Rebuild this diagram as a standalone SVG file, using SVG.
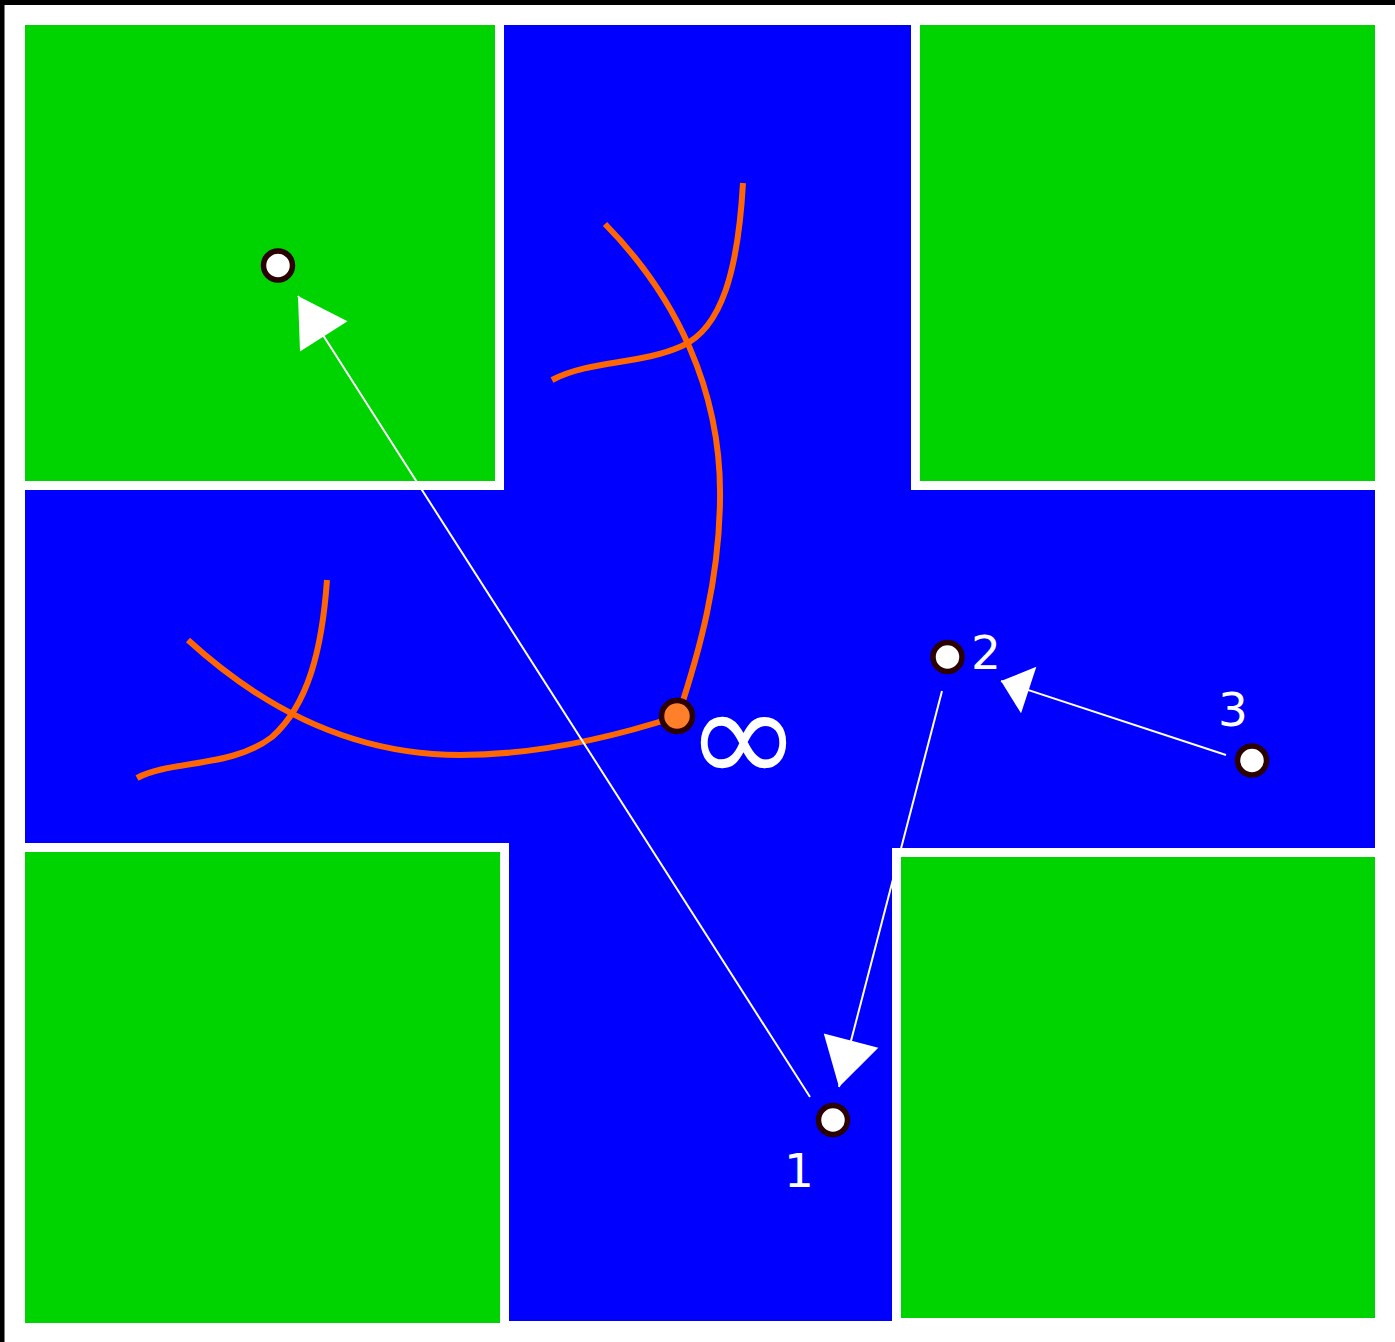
<svg xmlns="http://www.w3.org/2000/svg" width="1395" height="1342" viewBox="0 0 1395 1342">
  <style>
    .green { fill: #00d400; stroke: #ffffff; stroke-width: 9; }
    .curve { fill: none; stroke: #ff6600; stroke-width: 6; stroke-linecap: butt; }
    .node { fill: #ffffff; stroke: #2b0000; stroke-width: 5.5; }
    .onode { fill: #ff7f2a; stroke: #2b0000; stroke-width: 5.5; }
    .arrow { fill: none; stroke: #ffffff; stroke-width: 2; }
    .label { fill: #ffffff; font-family: "DejaVu Sans", "Liberation Sans", sans-serif; font-size: 47px; }
    .inf { fill: #ffffff; font-family: "Noto Sans", "DejaVu Sans", sans-serif; font-size: 138px; }
  </style>
  <defs>
    <marker id="headL" markerUnits="userSpaceOnUse" markerWidth="50" markerHeight="60" viewBox="-46 -27 47 54" refX="0" refY="0" orient="auto">
      <path d="M0,0 L-45,-26.5 L-45,26.5 Z" fill="#ffffff"/>
    </marker>
    <marker id="headS" markerUnits="userSpaceOnUse" markerWidth="32" markerHeight="50" viewBox="-29 -24 30 48" refX="0" refY="0" orient="auto">
      <path d="M0,0 L-28,-23.5 L-28,23.5 Z" fill="#ffffff"/>
    </marker>
  </defs>

  <rect x="0" y="0" width="1395" height="1342" fill="#ffffff"/>
  <rect x="0" y="0" width="1395" height="5" fill="#000000"/>
  <rect x="0" y="0" width="4.5" height="1342" fill="#000000"/>

  <rect id="water" x="25" y="25" width="1350" height="1296" fill="#0000ff"/>

  <g id="block-tl"><rect class="green" x="20.5" y="20.5" width="479" height="465"/></g>
  <g id="block-tr"><rect class="green" x="915.5" y="20.5" width="464" height="465"/></g>
  <g id="block-bl"><rect class="green" x="20.5" y="847.5" width="484" height="480"/></g>
  <g id="block-br"><rect class="green" x="896.5" y="852.5" width="483" height="470"/></g>

  <g id="curves">
    <path class="curve" d="M605,224 C675,295 722,390 720,500 C719,580 700,650 678,716"/>
    <path class="curve" d="M188,640 C270,715 360,755 460,755 C540,755 620,735 678,716"/>
    <path class="curve" d="M743,183 C738,270 722,328 682,346 C640,365 590,360 552,380"/>
    <path class="curve" d="M327,580 C322,650 308,705 272,737 C232,768 170,760 137,778"/>
  </g>

  <g id="connectors">
    <line class="arrow" x1="810" y1="1097" x2="298" y2="296" marker-end="url(#headL)"/>
    <line class="arrow" x1="942" y1="691" x2="839" y2="1087" marker-end="url(#headL)"/>
    <line class="arrow" x1="1226" y1="755" x2="1001" y2="681" marker-end="url(#headS)"/>
  </g>

  <g id="node-target"><circle class="node" cx="278" cy="265.5" r="14.5"/></g>
  <g id="node-inf">
    <circle class="onode" cx="677" cy="716" r="15.5"/>
    <text class="inf" x="686" y="784">∞</text>
  </g>
  <g id="node-2">
    <circle class="node" cx="947.5" cy="657" r="14.5"/>
    <text class="label" x="971" y="669">2</text>
  </g>
  <g id="node-3">
    <circle class="node" cx="1252" cy="760.5" r="14.5"/>
    <text class="label" x="1218" y="726">3</text>
  </g>
  <g id="node-1">
    <circle class="node" cx="833" cy="1120" r="14.5"/>
    <text class="label" x="784" y="1187">1</text>
  </g>
</svg>
